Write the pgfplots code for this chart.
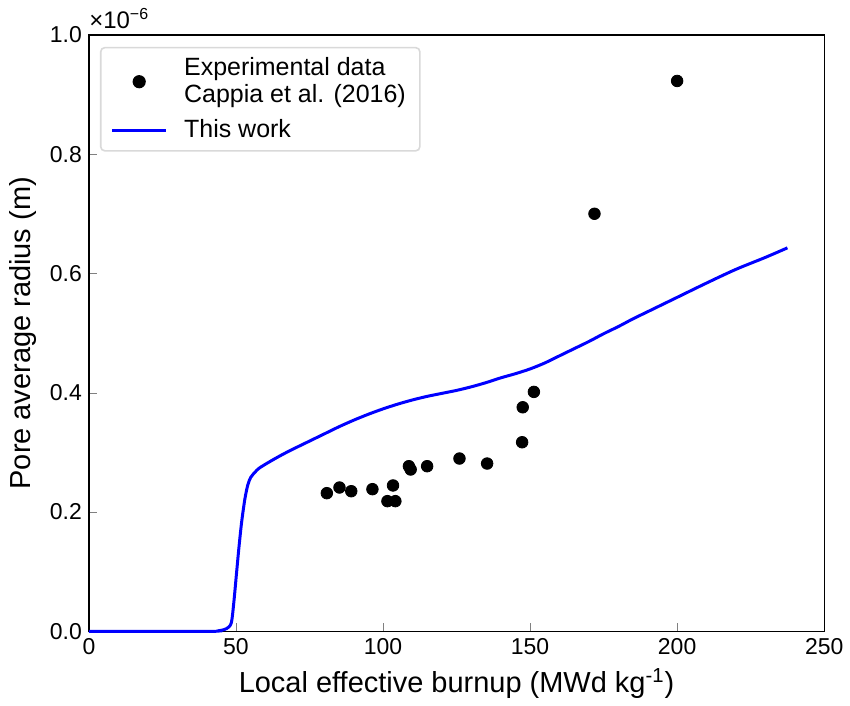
\documentclass[border=0pt]{standalone}
\usepackage{fontspec}
\setmainfont{Liberation Sans}
\usepackage{pgfplots}
\pgfplotsset{compat=1.18}
\begin{document}
\begin{tikzpicture}
\begin{axis}[
  name=ax,
  scale only axis,
  width=368pt, height=298.5pt,
  xmin=0, xmax=250, ymin=0, ymax=1,
  clip=false,
  xtick={0,50,100,150,200,250},
  ytick={0,0.2,0.4,0.6,0.8,1.0},
  tick align=inside,
  xtick pos=left, ytick pos=left,
  major tick length=4pt,
  /pgf/number format/assume math mode=true,
  yticklabel style={/pgf/number format/fixed,/pgf/number format/fixed zerofill,/pgf/number format/precision=1},
  xticklabel style={/pgf/number format/fixed},
  tick label style={font=\fontsize{11.5}{13}\selectfont},
  xlabel={Local effective burnup (MWd kg\textsuperscript{-1})},
  ylabel={Pore average radius (m)},
  label style={font=\fontsize{14.5}{17}\selectfont},
  axis line style={line width=0.6pt},
  legend style={font=\fontsize{12.5}{13.5}\selectfont, draw=black!15, line width=0.8pt, rounded corners=2pt, cells={align=left, anchor=west}, at={(0.015,0.98)}, anchor=north west, inner xsep=5pt, inner ysep=3pt, row sep=3pt},
]
\addplot[only marks, mark=*, mark size=2.9pt, black, legend image code/.code={\fill[black] (13.5pt,0) circle (2.9pt); \path[draw=none] (0pt,0) (34pt,0);}] coordinates {
(80.9,0.2317) (85.2,0.2412) (89.2,0.2350) (96.4,0.2384) (101.5,0.2183)
(104.2,0.2183) (103.4,0.2446) (108.8,0.2769) (109.4,0.2714) (115.0,0.2769)
(126.0,0.2898) (135.4,0.2814) (147.3,0.3171) (147.5,0.3757) (151.3,0.4015)
(171.9,0.7002) (200.0,0.9229)
};
\addlegendentry{Experimental data\\Cappia et al. (2016)}
\addplot[blue, line width=1.5pt, smooth, legend image code/.code={\draw[blue, line width=1.5pt] (0pt,0) -- (27pt,0); \path[draw=none] (0pt,0) (34pt,0);}] coordinates {
(0,0) (40,0) (44,0.001) (46,0.003) (47.5,0.007) (48.5,0.016) (49.3,0.05)
(50.2,0.098) (51,0.14) (51.9,0.182) (53,0.221) (54,0.245) (55,0.258)
(56.5,0.267) (58,0.274) (62,0.286) (66,0.297) (70,0.307) (75,0.319)
(80,0.331) (85,0.343) (90,0.354) (95,0.364) (100,0.373) (105,0.381)
(110,0.388) (115,0.394) (120,0.399) (125,0.404) (130,0.410) (135,0.417)
(140,0.425) (145,0.432) (150,0.440) (155,0.450) (160,0.462) (165,0.474)
(170,0.486) (175,0.499) (180,0.511) (185,0.524) (190,0.536) (195,0.548)
(200,0.560) (210,0.584) (220,0.607) (230,0.627) (237.5,0.643)
};
\addlegendentry{This work}
\node[anchor=south west, inner sep=0pt, yshift=3pt, font=\fontsize{12}{13}\selectfont] at (rel axis cs:0,1) {×10\textsuperscript{−6}};
\end{axis}
\path (ax.south west) ++(-44.5pt,-36pt);
\path (ax.north east) ++(12.5pt,17.5pt);
\end{tikzpicture}
\end{document}
